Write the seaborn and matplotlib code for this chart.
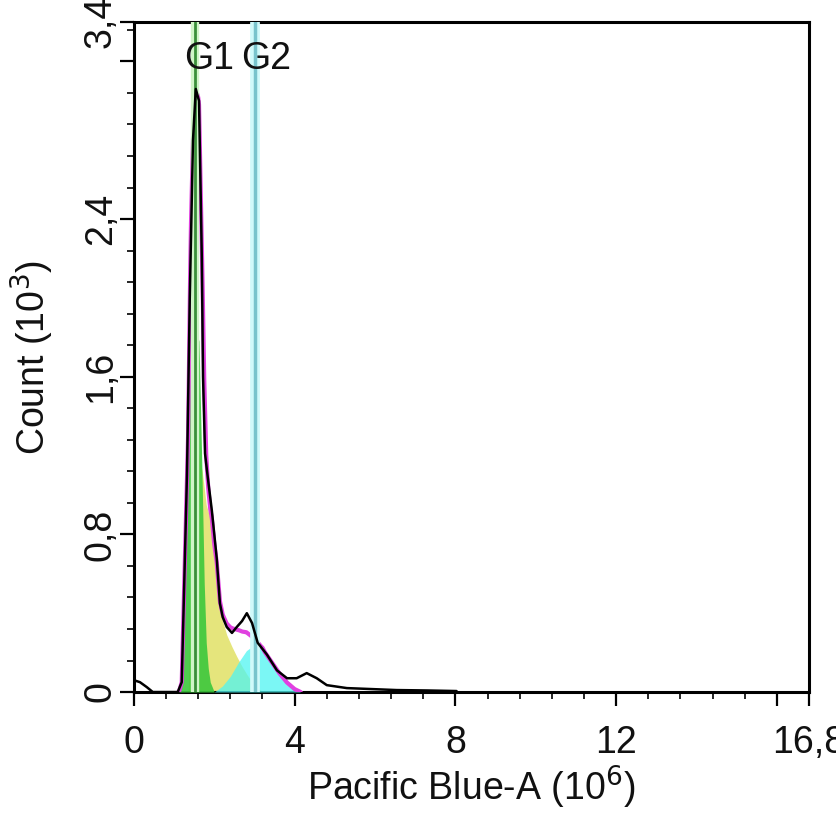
import numpy as np
import pandas as pd
import matplotlib
matplotlib.use("Agg")
import matplotlib.pyplot as plt
import seaborn as sns
from matplotlib.ticker import FixedLocator, MultipleLocator

# ---------------- data ----------------
# measured histogram (Count, 10^3) vs Pacific Blue-A (10^6)
hist_x = [0.00, 0.15, 0.32, 0.47, 0.77, 1.09, 1.19, 1.24, 1.32, 1.39, 1.47, 1.54,
          1.62, 1.69, 1.72, 1.77, 1.82, 1.94, 2.06, 2.14, 2.21, 2.31, 2.44, 2.56,
          2.69, 2.81, 2.94, 3.08, 3.31, 3.56, 3.81, 4.05, 4.30, 4.55, 4.80, 5.30,
          5.92, 6.54, 7.29, 8.03]
hist_y = [0.06, 0.05, 0.025, 0.0, 0.0, 0.0, 0.05, 0.45, 1.10, 2.00, 2.80, 3.06,
          3.00, 2.20, 1.60, 1.21, 1.12, 0.92, 0.68, 0.45, 0.38, 0.33, 0.30, 0.33,
          0.36, 0.40, 0.35, 0.25, 0.19, 0.11, 0.07, 0.07, 0.096, 0.07, 0.035, 0.02,
          0.015, 0.01, 0.008, 0.005]

# G1 component
g1_x = [1.12, 1.19, 1.24, 1.32, 1.39, 1.47, 1.54, 1.62, 1.69, 1.75, 1.80, 1.85,
        1.90, 2.00]
g1_y = [0.0, 0.05, 0.45, 1.10, 1.60, 1.80, 1.85, 1.78, 1.15, 0.55, 0.25, 0.12,
        0.05, 0.0]

# S-phase component
s_x = [1.35, 1.42, 1.50, 1.60, 1.70, 1.80, 1.94, 2.06, 2.14, 2.21, 2.31, 2.44,
       2.56, 2.69, 2.81, 2.94, 3.05, 3.15, 3.25]
s_y = [0.0, 0.70, 1.20, 1.22, 1.12, 0.95, 0.85, 0.65, 0.44, 0.36, 0.29, 0.23,
       0.18, 0.13, 0.09, 0.05, 0.025, 0.01, 0.0]

# G2 component
g2_x = [2.00, 2.20, 2.40, 2.60, 2.80, 3.00, 3.20, 3.40, 3.60, 3.80, 4.00, 4.15]
g2_y = [0.0, 0.03, 0.08, 0.15, 0.21, 0.24, 0.22, 0.16, 0.10, 0.05, 0.015, 0.0]

gate_pos = [1.52, 3.01]
gate_names = ["G1", "G2"]

x_ticks = [0, 4, 8, 12, 16, 16.8]
x_labels = ["0", "4", "8", "12", "", "16,8"]
y_ticks = [0, 0.8, 1.6, 2.4, 3.2, 3.4]
y_labels = ["0", "0,8", "1,6", "2,4", "", "3,4"]

# ---------------- style ----------------
sns.set_theme(style="ticks")
plt.rcParams["font.family"] = ["Liberation Sans", "DejaVu Sans"]
plt.rcParams["text.color"] = "#111111"
plt.rcParams["axes.labelcolor"] = "#111111"
plt.rcParams["xtick.color"] = "black"
plt.rcParams["ytick.color"] = "black"
plt.rcParams["xtick.labelcolor"] = "#111111"
plt.rcParams["ytick.labelcolor"] = "#111111"

FS = 27
fig = plt.figure(figsize=(8.37, 8.27), dpi=100)
ax = fig.add_axes([0.160, 0.1632, 0.8065, 0.8102])

# components
ax.fill_between(s_x, s_y, color="#e3e36e", alpha=0.9, lw=0, zorder=2)
ax.fill_between(g2_x, g2_y, color="#4ff5f2", alpha=0.75, lw=0, zorder=3)
ax.fill_between(g1_x, g1_y, color="#3cc83c", alpha=0.9, lw=0, zorder=4)

# fit (sum of components)
fx = np.linspace(1.1, 4.15, 306)
fit = (np.interp(fx, g1_x, g1_y, left=0, right=0)
       + np.interp(fx, s_x, s_y, left=0, right=0)
       + np.interp(fx, g2_x, g2_y, left=0, right=0))
ax.plot(fx, fit, color="#e040e0", lw=3, zorder=5)

# gate lines
ax.axvline(gate_pos[0], color="#d0f5c8", lw=6, zorder=5.5)
ax.axvline(gate_pos[0], color="#3a8f3a", lw=2, zorder=6)
ax.axvline(gate_pos[1], color="#d0fafa", lw=7, zorder=5.5)
ax.axvline(gate_pos[1], color="#78c4cc", lw=2.5, zorder=6)

# histogram
df = pd.DataFrame({"x": hist_x, "y": hist_y})
sns.lineplot(data=df, x="x", y="y", ax=ax, color="black", lw=1.8, zorder=7,
             estimator=None, sort=False)

# gate labels
ax.text(1.87, 3.21, gate_names[0], ha="center", va="center", fontsize=FS, zorder=8)
ax.text(3.30, 3.21, gate_names[1], ha="center", va="center", fontsize=FS, zorder=8)

ax.set_xlim(0, 16.8)
ax.set_ylim(0, 3.4)

ax.xaxis.set_major_locator(FixedLocator(x_ticks))
ax.set_xticklabels(x_labels)
ax.xaxis.set_minor_locator(MultipleLocator(0.8))
ax.yaxis.set_major_locator(FixedLocator(y_ticks))
ax.set_yticklabels(y_labels, rotation=90, va="center")
ax.yaxis.set_minor_locator(MultipleLocator(0.16))

ax.tick_params(axis="both", which="major", length=10, width=1.6, labelsize=FS,
               direction="out")
ax.tick_params(axis="x", which="major", pad=14)
ax.tick_params(axis="y", which="major", pad=1)
ax.tick_params(axis="both", which="minor", length=5, width=1.2, direction="out")
for sp in ax.spines.values():
    sp.set_visible(True)
    sp.set_linewidth(2.2)
    sp.set_color("black")

ax.set_xlabel("Pacific Blue-A (10$^6$)", fontsize=FS, labelpad=2)
ax.set_ylabel("Count (10$^3$)", fontsize=FS, labelpad=19)
ax.set_facecolor("white")

fig.savefig("out.png", dpi=100, facecolor="white")
